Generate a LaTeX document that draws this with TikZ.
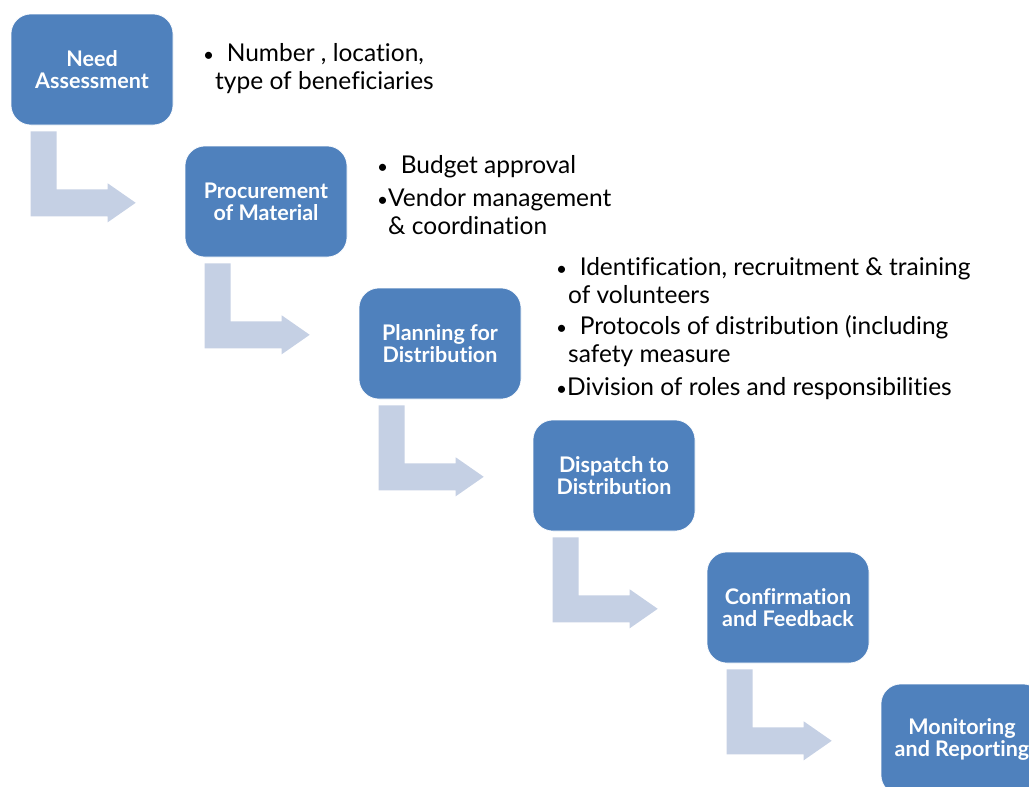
\documentclass[tikz,border=0pt]{standalone}
\usepackage{fontspec}
\setmainfont[Ligatures={NoCommon}]{Lato}
\usetikzlibrary{calc}
\definecolor{boxblue}{HTML}{4F81BD}
\definecolor{bendgray}{HTML}{C5D0E4}
\newcommand{\dotmark}{{\fontsize{19}{19}\selectfont\textbullet}}
\begin{document}
\begin{tikzpicture}[x=1pt,y=-1pt,
  stepbox/.style={rectangle, rounded corners=20pt, fill=boxblue, draw=white, line width=0.6pt,
    minimum width=162pt, minimum height=111pt, text=white, align=center,
    font=\fontsize{21.5}{22}\selectfont\bfseries, inner sep=0pt},
  note/.style={anchor=base west, inner sep=0pt, font=\fontsize{24.5}{28}\selectfont}]
\useasboundingbox (0,0) rectangle (1029,787);
\clip (0,0) rectangle (1029,787);

% process steps, each shifted by (174,132)
\node[stepbox] (s1) at (92,69.5)   {Need\\Assessment};
\node[stepbox] (s2) at (266,201.5) {Procurement\\of Material};
\node[stepbox] (s3) at (440,343.5) {Planning for\\Distribution};
\node[stepbox] (s4) at (614,475.5) {Dispatch to\\Distribution};
\node[stepbox] (s5) at (788,607.5) {Confirmation\\and Feedback};
\node[stepbox] (s6) at (962,739.5) {Monitoring\\and Reporting};

% bent arrow below a step, pointing right to the next one
\foreach \a in {s1,s2,s3,s4,s5}{
  \fill[bendgray] ($(\a.south west)+(20,6)$) -- ($(\a.south west)+(46,6)$)
    -- ($(\a.south west)+(46,64)$) -- ($(\a.south west)+(97,64)$)
    -- ($(\a.south west)+(97,58)$) -- ($(\a.south west)+(125,77.5)$)
    -- ($(\a.south west)+(97,97)$) -- ($(\a.south west)+(97,91)$)
    -- ($(\a.south west)+(20,91)$) -- cycle;
}

% notes beside the steps
\node[note] (n1a) at (203,61) {\dotmark\ \ Number , location,};
\node[note] (n1b) at (215,89) {type of beneficiaries};

\node[note] (n2a) at (377,173) {\dotmark\ \ Budget approval};
\node[note] (n2b) at (377,206) {\dotmark Vendor management};
\node[note] (n2c) at (388,234) {\& coordination};

\node[note] (n3a) at (556,275) {\dotmark\ \ Identification, recruitment \& training};
\node[note] (n3b) at (568,303) {of volunteers};
\node[note] (n3c) at (556,334) {\dotmark\ \ Protocols of distribution (including};
\node[note] (n3d) at (568,362) {safety measure};
\node[note] (n3e) at (556,395) {\dotmark Division of roles and responsibilities};
\end{tikzpicture}
\end{document}
